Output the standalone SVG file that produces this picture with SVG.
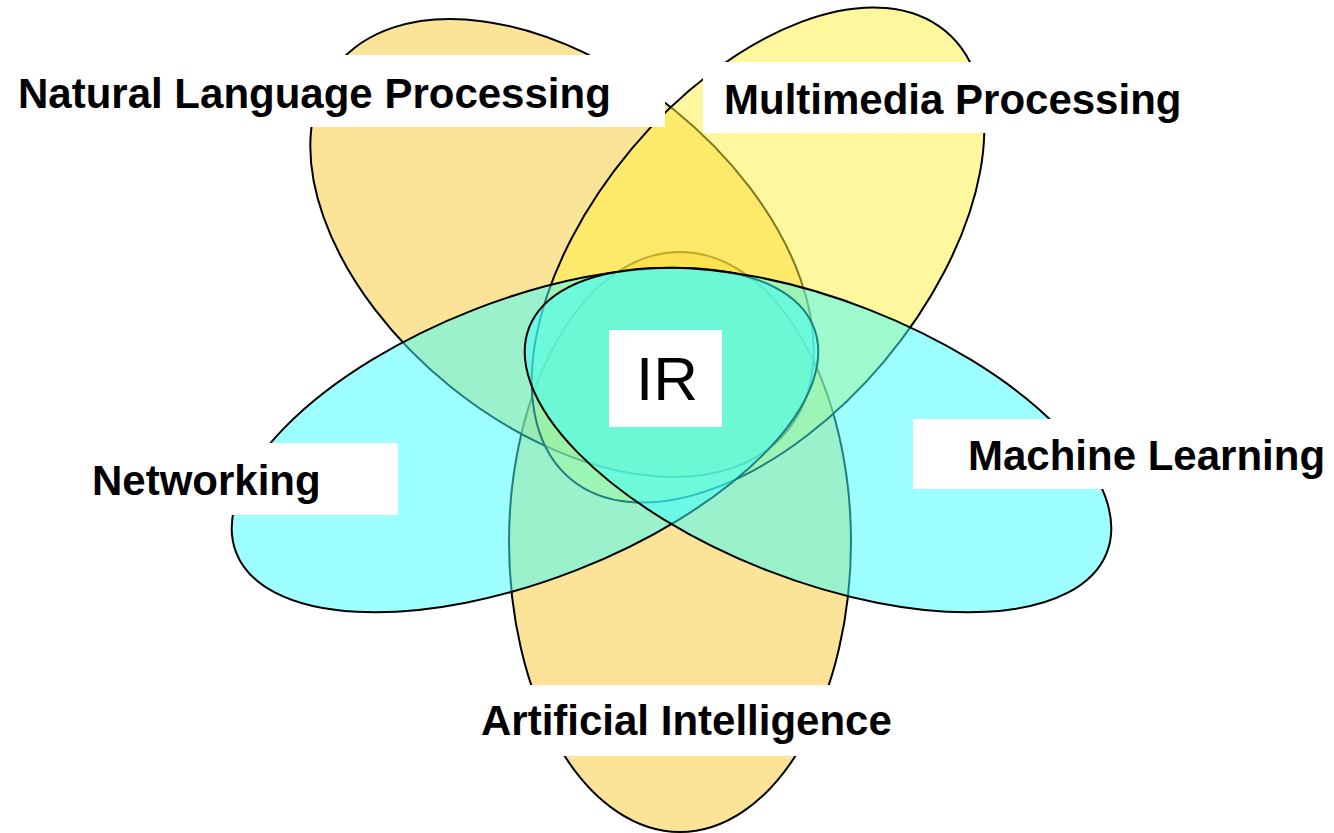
<svg xmlns="http://www.w3.org/2000/svg" width="1334" height="833" viewBox="0 0 1334 833">
<style>
.shape{stroke:#000;stroke-width:2}
.orange{fill:#F8C832;fill-opacity:.5}
.yellow{fill:#FFF03C;fill-opacity:.5}
.cyan{fill:#3CFFFF;fill-opacity:.5}
.box{fill:#fff}
.lbl{font-family:"Liberation Sans",Arial,sans-serif;font-weight:bold;font-size:42px;fill:#000}
.ir{font-family:"Liberation Sans",Arial,sans-serif;font-size:62px;fill:#000}
</style>
<rect width="1334" height="833" fill="#fff"/>
<g id="node-ai"><ellipse class="shape orange" cx="680" cy="542" rx="171" ry="290"/></g>
<g id="node-nlp"><ellipse class="shape orange" cx="562" cy="248" rx="290" ry="178" transform="rotate(39 562 248)"/></g>
<g id="node-mm"><ellipse class="shape yellow" cx="758" cy="255" rx="292" ry="165" transform="rotate(-50 758 255)"/></g>
<g id="node-net"><ellipse class="shape cyan" cx="525" cy="440" rx="310" ry="140" transform="rotate(-21.3 525 440)"/></g>
<g id="node-ml"><ellipse class="shape cyan" cx="818" cy="440" rx="310" ry="140" transform="rotate(21.3 818 440)"/></g>
<g id="connectors"></g>
<g id="label-ir"><rect class="box" x="609" y="330" width="113" height="97"/><text class="ir" x="667" y="400" text-anchor="middle">IR</text></g>
<g id="label-nlp"><rect class="box" x="5" y="55" width="660" height="72"/><text class="lbl" x="18" y="108">Natural Language Processing</text></g>
<g id="label-mm"><rect class="box" x="703" y="62" width="500" height="71"/><text class="lbl" x="724" y="114">Multimedia Processing</text></g>
<g id="label-net"><rect class="box" x="75" y="443" width="323" height="72"/><text class="lbl" x="92" y="495">Networking</text></g>
<g id="label-ml"><rect class="box" x="913" y="419" width="421" height="70"/><text class="lbl" x="968" y="470">Machine Learning</text></g>
<g id="label-ai"><rect class="box" x="465" y="685" width="442" height="71"/><text class="lbl" x="481" y="735">Artificial Intelligence</text></g>
</svg>
